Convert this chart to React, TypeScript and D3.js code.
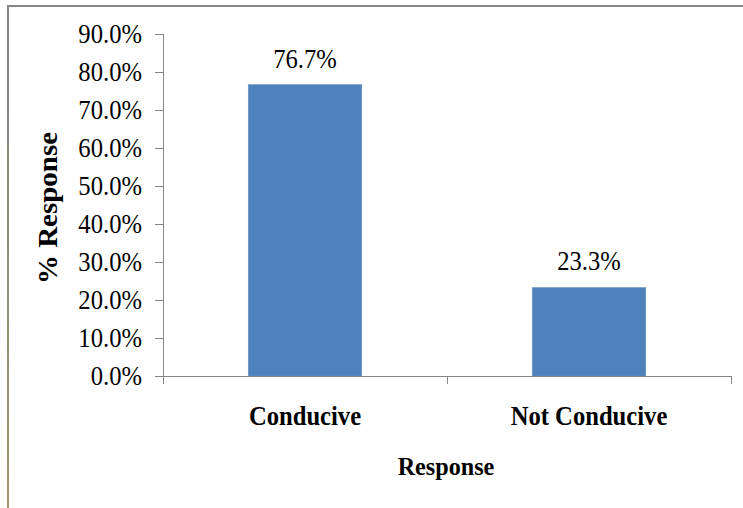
import React from "react";
import * as d3 from "d3";

const categories = ["Conducive", "Not Conducive"];
const values = [76.7, 23.3];
const yTicks = [0, 10, 20, 30, 40, 50, 60, 70, 80, 90];
const xTitle = "Response";
const yTitle = "% Response";

const W = 743;
const H = 508;
const SX = 0.93;
const FONT = '"Liberation Serif", "Times New Roman", Times, Tinos, "DejaVu Serif", serif';

export default function App() {
  const y = d3.scaleLinear().domain([0, 90]).range([376, 34]);
  const x = d3
    .scaleBand<string>()
    .domain(categories)
    .range([163, 731])
    .paddingInner(0.6)
    .paddingOuter(0.3);
  const step = x.step();
  const x0 = 163;
  const x1 = 731;
  const axisColor = "#868686";

  const txt = (
    key: string,
    tx: number,
    ty: number,
    s: string,
    size: number,
    opts: { anchor?: string; bold?: boolean; rot?: boolean; dy?: string } = {}
  ) => (
    <text
      key={key}
      transform={`translate(${tx},${ty}) scale(${SX},1)${opts.rot ? " rotate(-90)" : ""}`}
      textAnchor={opts.anchor || "middle"}
      dy={opts.dy || "0"}
      style={{
        fontFamily: FONT,
        fontSize: `${size}px`,
        fontWeight: opts.bold ? 700 : 400,
      }}
      fill="#000"
    >
      {s}
    </text>
  );

  return (
    <svg
      width={W}
      height={H}
      style={{ position: "absolute", left: 0, top: 0, background: "#fff" }}
    >
      <defs>
        <linearGradient id="leftBorder" x1="0" y1="0" x2="0" y2="1">
          <stop offset="0" stopColor="#858585" />
          <stop offset="1" stopColor="#9c9670" />
        </linearGradient>
      </defs>
      {/* frame */}
      <rect x={7} y={5} width={W - 7} height={2} fill="#878787" />
      <rect x={7} y={5} width={2} height={H - 5} fill="url(#leftBorder)" />

      {/* bars */}
      {categories.map((c, i) => (
        <rect
          key={c}
          x={x(c)!}
          y={y(values[i])}
          width={x.bandwidth()}
          height={y(0) - y(values[i])}
          fill="#4F81BD"
          stroke="#6f96c8"
          strokeWidth={0.5}
        />
      ))}

      {/* y axis */}
      <line x1={x0 + 0.5} x2={x0 + 0.5} y1={y(90)} y2={y(0)} stroke={axisColor} strokeWidth={1} />
      {yTicks.map((t) => (
        <g key={t}>
          <line x1={x0 - 8} x2={x0} y1={Math.round(y(t)) + 0.5} y2={Math.round(y(t)) + 0.5} stroke={axisColor} />
          {txt(`yt${t}`, 142, y(t), `${t.toFixed(1)}%`, 26.5, { anchor: "end", dy: "0.34em" })}
        </g>
      ))}

      {/* x axis */}
      <line x1={x0} x2={x1} y1={Math.round(y(0)) + 0.5} y2={Math.round(y(0)) + 0.5} stroke={axisColor} />
      {[0, 1, 2].map((k) => (
        <line
          key={k}
          x1={x0 + k * step + 0.5}
          x2={x0 + k * step + 0.5}
          y1={y(0)}
          y2={y(0) + 8}
          stroke={axisColor}
        />
      ))}
      {categories.map((c) =>
        txt(`xc${c}`, x(c)! + x.bandwidth() / 2, 425, c, 26.5, { bold: true })
      )}

      {/* value labels */}
      {categories.map((c, i) =>
        txt(`vl${c}`, x(c)! + x.bandwidth() / 2, y(values[i]) - 17, `${values[i].toFixed(1)}%`, 26.5)
      )}

      {/* titles */}
      {txt("xt", 446, 475, xTitle, 26, { bold: true })}
      {txt("yt", 57, 208, yTitle, 29, { bold: true, rot: true })}
    </svg>
  );
}
